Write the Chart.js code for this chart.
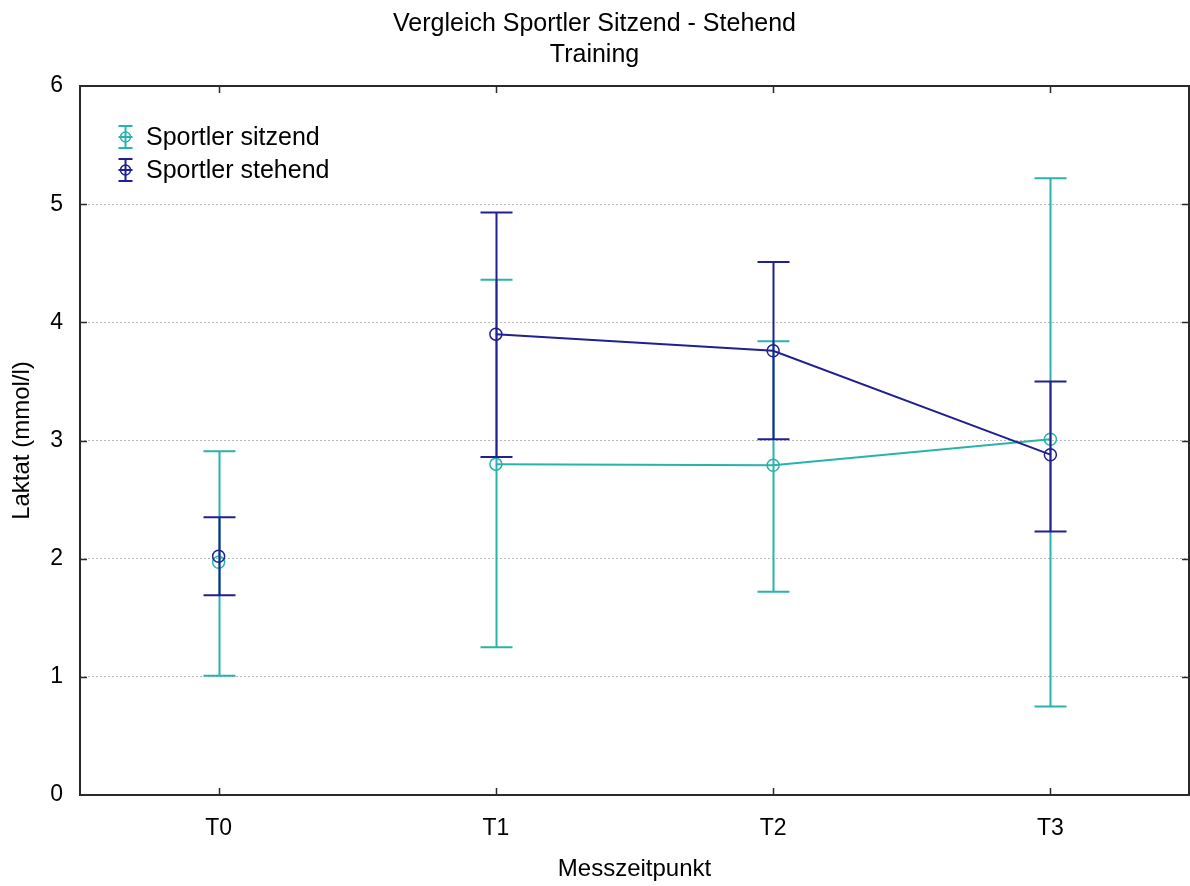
<!DOCTYPE html>
<html>
<head>
<meta charset="utf-8">
<script src="https://cdn.jsdelivr.net/npm/chart.js@4.4.0/dist/chart.umd.min.js"></script>
<style>
  body { margin: 0; background: #fff; }
  #wrap { width: 1190px; height: 886px; }
</style>
</head>
<body>
<div id="wrap"><canvas id="mycanvas" width="1190" height="886"></canvas></div>
<script>
var zeitpunkte = ['T0', 'T1', 'T2', 'T3'];

var sitzendMittel = [1.97, 2.80, 2.79, 3.01];
var sitzendUnten  = [1.01, 1.25, 1.72, 0.75];
var sitzendOben   = [2.91, 4.36, 3.84, 5.22];

var stehendMittel = [2.02, 3.90, 3.76, 2.88];
var stehendUnten  = [1.69, 2.86, 3.01, 2.23];
var stehendOben   = [2.35, 4.93, 4.51, 3.50];

var yTicks = [0, 1, 2, 3, 4, 5, 6];

var teal = '#2ab3ab';
var navy = '#202090';
var fontName = '"Liberation Sans", Arial, sans-serif';

// no connecting line between T0 and T1
let hideFirst = (color) => {
  return (ctx) => ctx.p0DataIndex == 0 ? 'rgba(0,0,0,0)' : color;
};

var errorBars = {
  id: 'errorBars',
  afterDatasetDraw: function(chart, args) {
    var ds = chart.data.datasets[args.index];
    var ctx = chart.ctx;
    var x = chart.scales.x, y = chart.scales.y;
    ctx.save();
    ctx.strokeStyle = ds.borderColor;
    ctx.lineWidth = 2;
    for (var i = 0; i < ds.unten.length; i++) {
      var px = Math.round(x.getPixelForValue(i)) + 0.5;
      var lo = y.getPixelForValue(ds.unten[i]);
      var hi = y.getPixelForValue(ds.oben[i]);
      ctx.beginPath();
      ctx.moveTo(px, lo); ctx.lineTo(px, hi);
      ctx.moveTo(px - 16, lo); ctx.lineTo(px + 16, lo);
      ctx.moveTo(px - 16, hi); ctx.lineTo(px + 16, hi);
      ctx.stroke();
    }
    ctx.restore();
  }
};

var frame = {
  id: 'frame',
  afterDraw: function(chart) {
    var ctx = chart.ctx, a = chart.chartArea;
    var x = chart.scales.x, y = chart.scales.y;
    ctx.save();
    ctx.strokeStyle = '#2a2a2a';
    ctx.lineWidth = 2;
    ctx.strokeRect(a.left, a.top, a.right - a.left, a.bottom - a.top);
    ctx.lineWidth = 1.5;
    ctx.beginPath();
    for (var i = 0; i < zeitpunkte.length; i++) {
      var px = Math.round(x.getPixelForValue(i)) + 0.5;
      ctx.moveTo(px, a.bottom); ctx.lineTo(px, a.bottom - 7);
      ctx.moveTo(px, a.top); ctx.lineTo(px, a.top + 7);
    }
    for (var j = 1; j < yTicks.length - 1; j++) {
      var py = Math.round(y.getPixelForValue(yTicks[j])) + 0.5;
      ctx.moveTo(a.left, py); ctx.lineTo(a.left + 7, py);
      ctx.moveTo(a.right, py); ctx.lineTo(a.right - 7, py);
    }
    ctx.stroke();

    // legend inside the plot
    var rows = chart.data.datasets;
    ctx.font = '25px ' + fontName;
    ctx.textBaseline = 'middle';
    ctx.textAlign = 'left';
    for (var k = 0; k < rows.length; k++) {
      var cy = 137 + k * 33, cx = 125.5;
      ctx.strokeStyle = rows[k].borderColor;
      ctx.lineWidth = 2;
      ctx.beginPath();
      ctx.moveTo(cx, cy - 11); ctx.lineTo(cx, cy + 11);
      ctx.moveTo(cx - 7, cy - 11); ctx.lineTo(cx + 7, cy - 11);
      ctx.moveTo(cx - 7, cy + 11); ctx.lineTo(cx + 7, cy + 11);
      ctx.moveTo(cx - 7, cy); ctx.lineTo(cx + 7, cy);
      ctx.stroke();
      ctx.lineWidth = 1.5;
      ctx.beginPath();
      ctx.arc(cx, cy, 5, 0, Math.PI * 2);
      ctx.stroke();
      ctx.fillStyle = '#000';
      ctx.fillText(rows[k].label, 146, cy + 1);
    }
    ctx.restore();
  }
};

var chartdata = {
  labels: zeitpunkte,
  datasets: [
    {
      label: 'Sportler sitzend',
      data: sitzendMittel,
      unten: sitzendUnten,
      oben: sitzendOben,
      borderColor: teal,
      backgroundColor: 'rgba(0,0,0,0)',
      borderWidth: 2,
      pointRadius: 6,
      pointHoverRadius: 6,
      pointBorderWidth: 1.5,
      segment: { borderColor: hideFirst(teal) },
      order: 2
    },
    {
      label: 'Sportler stehend',
      data: stehendMittel,
      unten: stehendUnten,
      oben: stehendOben,
      borderColor: navy,
      backgroundColor: 'rgba(0,0,0,0)',
      borderWidth: 2,
      pointRadius: 6,
      pointHoverRadius: 6,
      pointBorderWidth: 1.5,
      segment: { borderColor: hideFirst(navy) },
      order: 1
    }
  ]
};

var ctx = document.getElementById('mycanvas');
var lineGraph = new Chart(ctx, {
  type: 'line',
  data: chartdata,
  plugins: [errorBars, frame],
  options: {
    responsive: false,
    animation: false,
    layout: { autoPadding: false, padding: { left: 0, right: 1, top: 0, bottom: 0 } },
    plugins: {
      legend: { display: false },
      tooltip: { enabled: false },
      title: {
        display: true,
        text: ['Vergleich Sportler Sitzend - Stehend', 'Training'],
        color: '#000',
        font: { family: fontName, size: 25, weight: 'normal', lineHeight: 1.24 },
        padding: { top: 9, bottom: 15 }
      }
    },
    scales: {
      x: {
        type: 'category',
        offset: true,
        grid: { display: false, drawTicks: false },
        border: { display: false },
        ticks: { color: '#000', padding: 20, font: { family: fontName, size: 23 } },
        title: {
          display: true,
          text: 'Messzeitpunkt',
          color: '#000',
          font: { family: fontName, size: 24 },
          padding: { top: 0, bottom: 2 }
        },
        afterFit: function(scale) {
          scale.height = 91;
          scale.paddingLeft = 0;
          scale.paddingRight = 0;
        }
      },
      y: {
        min: 0,
        max: 6,
        afterBuildTicks: function(scale) {
          scale.ticks = yTicks.map(function(v) { return { value: v }; });
        },
        grid: { color: '#b8b8b8', lineWidth: 1, drawTicks: false },
        border: { display: false, dash: [2, 2] },
        ticks: { color: '#000', padding: 17, font: { family: fontName, size: 23 } },
        title: {
          display: true,
          text: 'Laktat (mmol/l)',
          color: '#000',
          font: { family: fontName, size: 24 },
          padding: { top: 8, bottom: 0 }
        },
        afterFit: function(scale) { scale.width = 80; }
      }
    }
  }
});
</script>
</body>
</html>
